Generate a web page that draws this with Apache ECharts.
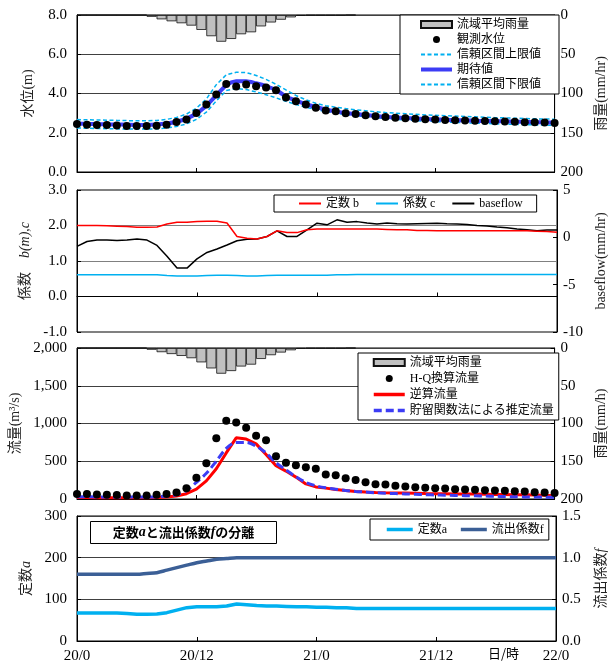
<!DOCTYPE html>
<html>
<head>
<meta charset="utf-8">
<script src="https://cdn.jsdelivr.net/npm/echarts@6/dist/echarts.min.js"></script>
<style>
  html, body { margin: 0; padding: 0; background: #fff; }
  #main { width: 616px; height: 668px; }
</style>
</head>
<body>
<div id="main"></div>
<script>
// 時刻ラベル (12時間ごと)
const timeLabels = ['20/0', '20/12', '21/0', '21/12', '22/0'];

// 流域平均雨量 (mm/hr) 0時〜27時
const rain = [0, 0, 0, 0, 0, 0, 0, 2.3, 5.5, 8, 10.5, 13.5, 19, 27, 34, 30.5, 24.5, 22, 14.5, 9.5, 6, 3, 1, 0.5, 0.5, 0.5, 0.5, 0];

// 水位 (m) 0時〜48時
const obsLevel = [2.45, 2.41, 2.40, 2.39, 2.37, 2.35, 2.34, 2.34, 2.36, 2.41, 2.55, 2.68, 3.01, 3.44, 3.95, 4.48, 4.36, 4.46, 4.37, 4.31, 4.17, 3.79, 3.61, 3.44, 3.28, 3.13, 3.09, 2.99, 2.96, 2.89, 2.84, 2.80, 2.77, 2.74, 2.71, 2.69, 2.67, 2.65, 2.64, 2.62, 2.61, 2.60, 2.58, 2.57, 2.56, 2.54, 2.53, 2.52, 2.50];
const expLevel = [2.47, 2.45, 2.44, 2.43, 2.42, 2.41, 2.40, 2.40, 2.42, 2.47, 2.56, 2.72, 2.98, 3.38, 3.90, 4.42, 4.62, 4.63, 4.52, 4.38, 4.18, 3.85, 3.64, 3.46, 3.31, 3.18, 3.09, 3.01, 2.95, 2.90, 2.85, 2.81, 2.78, 2.75, 2.72, 2.70, 2.68, 2.66, 2.64, 2.63, 2.61, 2.60, 2.59, 2.58, 2.56, 2.55, 2.54, 2.53, 2.52];
const upperLevel = [2.67, 2.66, 2.65, 2.64, 2.63, 2.62, 2.61, 2.61, 2.63, 2.68, 2.78, 2.95, 3.25, 3.72, 4.45, 4.95, 5.08, 5.07, 4.92, 4.72, 4.47, 4.18, 3.90, 3.68, 3.50, 3.38, 3.30, 3.23, 3.17, 3.12, 3.07, 3.03, 3.00, 2.97, 2.94, 2.91, 2.89, 2.87, 2.85, 2.83, 2.81, 2.79, 2.77, 2.76, 2.74, 2.73, 2.71, 2.70, 2.69];
const lowerLevel = [2.24, 2.23, 2.22, 2.21, 2.20, 2.19, 2.19, 2.19, 2.20, 2.24, 2.32, 2.45, 2.68, 3.05, 3.62, 4.15, 4.25, 4.20, 4.08, 3.94, 3.78, 3.60, 3.44, 3.30, 3.18, 3.08, 3.00, 2.93, 2.87, 2.82, 2.77, 2.72, 2.68, 2.65, 2.62, 2.59, 2.57, 2.55, 2.53, 2.51, 2.49, 2.47, 2.46, 2.44, 2.43, 2.42, 2.40, 2.39, 2.38];

// 定数b, 係数c, baseflow
const constB = [2.00, 2.00, 2.00, 1.99, 1.98, 1.97, 1.95, 1.95, 1.96, 2.04, 2.09, 2.09, 2.11, 2.12, 2.12, 2.07, 1.69, 1.64, 1.62, 1.69, 1.85, 1.80, 1.80, 1.88, 1.90, 1.90, 1.90, 1.90, 1.90, 1.90, 1.90, 1.89, 1.88, 1.88, 1.86, 1.86, 1.85, 1.85, 1.85, 1.85, 1.85, 1.85, 1.85, 1.85, 1.85, 1.85, 1.84, 1.83, 1.81];
const coefC = [0.61, 0.61, 0.61, 0.61, 0.61, 0.61, 0.61, 0.61, 0.61, 0.59, 0.58, 0.58, 0.58, 0.59, 0.60, 0.60, 0.59, 0.58, 0.58, 0.59, 0.60, 0.60, 0.60, 0.60, 0.60, 0.60, 0.61, 0.61, 0.62, 0.62, 0.62, 0.62, 0.62, 0.62, 0.62, 0.62, 0.62, 0.62, 0.62, 0.62, 0.62, 0.62, 0.62, 0.62, 0.62, 0.62, 0.62, 0.62, 0.62];
const baseflow = [-0.96, -0.44, -0.29, -0.29, -0.33, -0.29, -0.18, -0.29, -0.85, -2.01, -3.25, -3.25, -2.28, -1.6, -1.23, -0.81, -0.36, -0.21, -0.18, 0.09, 0.69, 0.09, 0.09, 0.8, 1.49, 1.32, 1.85, 1.59, 1.66, 1.51, 1.4, 1.51, 1.44, 1.4, 1.44, 1.47, 1.49, 1.44, 1.4, 1.36, 1.25, 1.2, 1.08, 1.0, 0.88, 0.8, 0.69, 0.77, 0.77];

// 流量 (m3/s)
const hqFlow = [65, 65, 60, 56, 52, 48, 48, 48, 56, 65, 87, 143, 283, 474, 805, 1035, 1014, 944, 839, 779, 565, 479, 448, 422, 400, 326, 313, 274, 252, 222, 196, 191, 174, 165, 157, 148, 143, 139, 130, 126, 122, 117, 113, 109, 104, 100, 91, 87, 78];
const backFlow = [20, 20, 18, 18, 16, 16, 16, 18, 20, 28, 40, 70, 130, 240, 400, 610, 810, 795, 730, 590, 440, 370, 290, 200, 160, 144, 126, 113, 100, 93, 87, 83, 80, 78, 75, 72, 70, 69, 67, 66, 65, 63, 61, 59, 57, 55, 53, 50, 48];
const storageFlow = [30, 30, 28, 27, 26, 25, 25, 26, 30, 40, 60, 110, 220, 340, 500, 670, 750, 750, 700, 610, 480, 385, 295, 220, 175, 148, 130, 113, 100, 92, 83, 77, 72, 67, 63, 58, 53, 50, 47, 44, 42, 39, 36, 33, 30, 28, 26, 24, 22];

// 定数a, 流出係数f
const constA = [67, 67, 67, 67, 67, 66, 64, 64, 65, 68, 74, 80, 82, 82, 82, 84, 89, 87, 85, 84, 84, 83, 82, 82, 81, 81, 80, 80, 78, 78, 78, 78, 78, 78, 78, 78, 78, 78, 78, 78, 78, 78, 78, 78, 78, 78, 78, 78, 78];
const coefF = [0.80, 0.80, 0.80, 0.80, 0.80, 0.80, 0.80, 0.81, 0.82, 0.85, 0.88, 0.91, 0.94, 0.96, 0.98, 0.99, 1.0, 1.0, 1.0, 1.0, 1.0, 1.0, 1.0, 1.0, 1.0, 1.0, 1.0, 1.0, 1.0, 1.0, 1.0, 1.0, 1.0, 1.0, 1.0, 1.0, 1.0, 1.0, 1.0, 1.0, 1.0, 1.0, 1.0, 1.0, 1.0, 1.0, 1.0, 1.0, 1.0];

const FONT = "'Liberation Serif', 'Noto Sans CJK JP', serif";
const JP = "'Noto Sans CJK JP', sans-serif";
const LIGHT = '#00b0f0';
const BLUE = '#3c3cf5';

const byHour = arr => arr.map((v, i) => [i, v]);
const rainBars = rain.map((v, i) => [i + 0.5, v]);

const panels = [
  { top: 15, height: 157 },
  { top: 190, height: 142 },
  { top: 348, height: 151 },
  { top: 516, height: 125 }
];

const grid = panels.map(p => ({
  left: 77, right: 59, top: p.top, height: p.height,
  show: true, borderColor: '#000', borderWidth: 1, backgroundColor: '#fff'
}));

const xAxis = panels.map((p, i) => ({
  type: 'value', gridIndex: i, min: 0, max: 48, interval: 12,
  axisLine: { lineStyle: { color: '#000' } },
  axisTick: { inside: true, length: 4, lineStyle: { color: '#000' } },
  splitLine: { show: false },
  axisLabel: {
    show: i === 3, margin: 8, color: '#000', fontFamily: FONT, fontSize: 15,
    formatter: v => timeLabels[v / 12]
  }
}));

function leftAxis(gridIndex, min, max, interval, name, fmt, gridColor, extra) {
  return Object.assign({
    type: 'value', gridIndex, position: 'left', min, max, interval,
    name, nameLocation: 'middle', nameGap: 42, nameRotate: 90,
    nameTextStyle: { fontFamily: FONT, fontSize: 14, color: '#222', rich: { i: { fontStyle: 'italic', fontFamily: FONT, fontSize: 14 } } },
    axisLine: { show: true, lineStyle: { color: '#000' } },
    axisTick: { show: true, inside: true, length: 4, lineStyle: { color: '#000' } },
    axisLabel: { margin: 10, color: '#000', fontFamily: FONT, fontSize: 15, formatter: fmt },
    splitLine: { show: true, lineStyle: { color: gridColor, width: 1 } }
  }, extra || {});
}

function rightAxis(gridIndex, min, max, interval, name, fmt, extra) {
  return Object.assign({
    type: 'value', gridIndex, position: 'right', min, max, interval,
    name, nameLocation: 'middle', nameGap: 38, nameRotate: 90,
    nameTextStyle: { fontFamily: FONT, fontSize: 14, color: '#222', rich: { i: { fontStyle: 'italic', fontFamily: FONT, fontSize: 14 } } },
    axisLine: { show: true, lineStyle: { color: '#000' } },
    axisTick: { show: true, inside: true, length: 4, lineStyle: { color: '#000' } },
    axisLabel: { margin: 6, color: '#000', fontFamily: FONT, fontSize: 15, formatter: fmt },
    splitLine: { show: false }
  }, extra || {});
}

const fix1 = v => v.toFixed(1);
const comma = v => v.toLocaleString('en-US');

const yAxis = [
  leftAxis(0, 0, 8, 2, '水位(m)', fix1, '#404040'),
  rightAxis(0, 0, 200, 50, '雨量(mm/hr)', null, { inverse: true }),
  leftAxis(1, -1, 3, 1, '係数　{i|b(m),c}', fix1, '#808080'),
  rightAxis(1, -10, 5, 5, 'baseflow(mm/hr)', null, { nameGap: 36 }),
  leftAxis(2, 0, 2000, 500, '流量(m³/s)', comma, '#404040'),
  rightAxis(2, 0, 200, 50, '雨量(mm/h)', null, { inverse: true }),
  leftAxis(3, 0, 300, 100, '定数{i|a}', null, '#404040'),
  rightAxis(3, 0, 1.5, 0.5, '流出係数{i|f}', fix1)
];

const barStyle = { color: '#c0c0c0', borderColor: '#111', borderWidth: 0.8 };
const dotStyle = { color: '#000', opacity: 1 };
const dashed = (name, data) => ({
  name, type: 'line', xAxisIndex: 0, yAxisIndex: 0, data: byHour(data),
  symbol: 'none', lineStyle: { color: LIGHT, width: 1.5, type: [4, 2.5] }, itemStyle: { color: LIGHT }, z: 3
});

const series = [
  // 上段
  { name: '流域平均雨量', type: 'bar', xAxisIndex: 0, yAxisIndex: 1, data: rainBars, barWidth: 10, itemStyle: barStyle, z: 2 },
  dashed('信頼区間上限値', upperLevel),
  dashed('信頼区間下限値', lowerLevel),
  { name: '期待値', type: 'line', xAxisIndex: 0, yAxisIndex: 0, data: byHour(expLevel), symbol: 'none',
    smooth: 0.3, lineStyle: { color: BLUE, width: 4 }, itemStyle: { color: BLUE }, z: 4 },
  { name: '観測水位', type: 'scatter', xAxisIndex: 0, yAxisIndex: 0, data: byHour(obsLevel), symbolSize: 8,
    itemStyle: dotStyle, z: 5 },

  // 2段目
  { name: '定数 b', type: 'line', xAxisIndex: 1, yAxisIndex: 2, data: byHour(constB), symbol: 'none',
    lineStyle: { color: '#ff0000', width: 1.5 }, itemStyle: { color: '#ff0000' }, z: 4,
    markLine: { silent: true, symbol: 'none', label: { show: false }, lineStyle: { color: '#000', type: 'solid', width: 1 }, data: [{ yAxis: 0 }] } },
  { name: '係数 c', type: 'line', xAxisIndex: 1, yAxisIndex: 2, data: byHour(coefC), symbol: 'none',
    lineStyle: { color: LIGHT, width: 1.5 }, itemStyle: { color: LIGHT } },
  { name: 'baseflow', type: 'line', xAxisIndex: 1, yAxisIndex: 3, data: byHour(baseflow), symbol: 'none',
    lineStyle: { color: '#000', width: 1.5 }, itemStyle: { color: '#000' }, z: 3 },

  // 3段目
  { name: '流域平均雨量 ', type: 'bar', xAxisIndex: 2, yAxisIndex: 5, data: rainBars, barWidth: 10, itemStyle: barStyle, z: 2 },
  { name: '逆算流量', type: 'line', xAxisIndex: 2, yAxisIndex: 4, data: byHour(backFlow), symbol: 'none',
    lineStyle: { color: '#ff0000', width: 3 }, itemStyle: { color: '#ff0000' }, z: 3 },
  { name: '貯留関数法による推定流量', type: 'line', xAxisIndex: 2, yAxisIndex: 4, data: byHour(storageFlow), symbol: 'none',
    smooth: 0.3, lineStyle: { color: BLUE, width: 3, type: [8, 4] }, itemStyle: { color: BLUE }, z: 4 },
  { name: 'H-Q換算流量', type: 'scatter', xAxisIndex: 2, yAxisIndex: 4, data: byHour(hqFlow), symbolSize: 8,
    itemStyle: dotStyle, z: 5 },

  // 下段
  { name: '定数a', type: 'line', xAxisIndex: 3, yAxisIndex: 6, data: byHour(constA), symbol: 'none',
    lineStyle: { color: LIGHT, width: 3.5 }, itemStyle: { color: LIGHT } },
  { name: '流出係数f', type: 'line', xAxisIndex: 3, yAxisIndex: 7, data: byHour(coefF), symbol: 'none', smooth: 0.3,
    lineStyle: { color: '#3b5f96', width: 3.5 }, itemStyle: { color: '#3b5f96' } }
];

// 線の凡例は記号なし
const lineItem = (name, width) => {
  const item = { name, itemStyle: { opacity: 0 } };
  if (width) item.lineStyle = { width };
  return item;
};

const legendBase = {
  borderColor: '#000', borderWidth: 1, backgroundColor: '#fff', borderRadius: 0,
  selectedMode: false, z: 10,
  textStyle: { fontFamily: FONT, fontSize: 12, color: '#000', lineHeight: 15 }
};

const legend = [
  Object.assign({}, legendBase, {
    orient: 'vertical', left: 400, top: 15, itemWidth: 31, itemHeight: 7, itemGap: 0,
    padding: [2, 18, 2, 19],
    data: [
      { name: '流域平均雨量', icon: 'rect' }, '観測水位',
      lineItem('信頼区間上限値'), lineItem('期待値', 4), lineItem('信頼区間下限値')
    ]
  }),
  Object.assign({}, legendBase, {
    orient: 'horizontal', left: 274, top: 195, itemWidth: 22, itemHeight: 7, itemGap: 16,
    padding: [1, 14, 1, 24],
    data: [lineItem('定数 b'), lineItem('係数 c'), lineItem('baseflow')]
  }),
  Object.assign({}, legendBase, {
    orient: 'vertical', left: 358, top: 353, itemWidth: 31, itemHeight: 7, itemGap: 1,
    padding: [2, 5, 2, 14],
    data: [{ name: '流域平均雨量 ', icon: 'rect' }, 'H-Q換算流量', lineItem('逆算流量', 3.5), lineItem('貯留関数法による推定流量', 3.5)]
  }),
  Object.assign({}, legendBase, {
    orient: 'horizontal', left: 370, top: 519, itemWidth: 26, itemHeight: 7, itemGap: 12,
    padding: [3, 5, 3, 15],
    data: [lineItem('定数a', 3.5), lineItem('流出係数f', 3.5)]
  })
];

const graphic = [
  {
    type: 'group', left: 90, top: 521, z: 20,
    children: [
      { type: 'rect', shape: { x: 0, y: 0, width: 186, height: 22 }, style: { fill: '#fff', stroke: '#000', lineWidth: 1 } },
      { type: 'text', x: 93, y: 11, style: {
        text: '定数{i|a}と流出係数{i|f}の分離', align: 'center', verticalAlign: 'middle',
        font: 'bold 13px ' + JP, fill: '#000',
        rich: { i: { fontStyle: 'italic', fontWeight: 'bold', fontFamily: FONT, fontSize: 14 } }
      } }
    ]
  },
  { type: 'text', left: 488, top: 647, style: { text: '日/時', font: '13px ' + JP, fill: '#000' } }
];

const myChart = echarts.init(document.getElementById('main'));
myChart.setOption({
  animation: false,
  backgroundColor: '#fff',
  grid, xAxis, yAxis, series, legend, graphic
});
</script>
</body>
</html>
